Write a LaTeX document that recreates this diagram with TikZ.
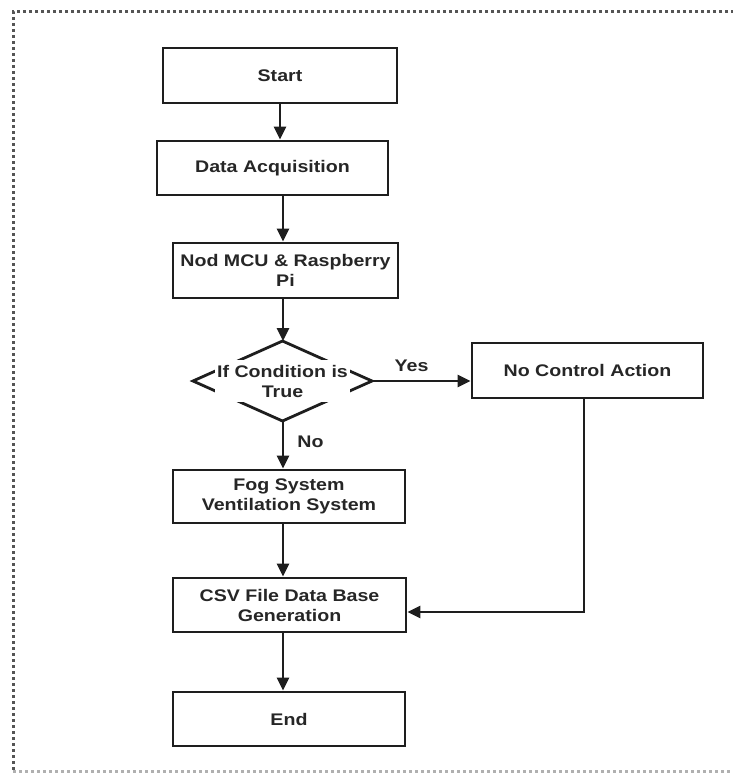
\documentclass[tikz,border=0pt]{standalone}
\usepackage{fontspec}
\setmainfont{Liberation Sans}[FakeStretch=1.167]
\usetikzlibrary{arrows.meta}
\definecolor{ink}{HTML}{1E1E1E}
\definecolor{txt}{HTML}{262626}
\definecolor{frame}{HTML}{555555}
\definecolor{framelight}{HTML}{B0B0B0}
\begin{document}
\begin{tikzpicture}[x=1pt,y=-1pt,
  every node/.style={font=\fontsize{16.8}{20}\selectfont\bfseries, text=txt},
  box/.style={draw=ink, line width=2.8pt, fill=white, inner sep=0pt, align=center},
  conn/.style={draw=ink, line width=2.8pt, -{Triangle[length=13pt,width=12pt]}},
  plain/.style={draw=ink, line width=2.8pt}]
\useasboundingbox (0,0) rectangle (732,776);
% dotted frame
\draw[frame, line width=3pt, dash pattern=on 3pt off 3pt] (740,12) -- (13,12) -- (13,771);
\draw[framelight, line width=3pt, dash pattern=on 3pt off 3pt] (13,771) -- (740,771);
% nodes
\node[box, minimum width=234pt, minimum height=55pt] (start) at (280,75.5) {Start};
\node[box, minimum width=231pt, minimum height=54pt] (data) at (272.5,168) {Data Acquisition};
\node[box, minimum width=225pt, minimum height=55pt] (nod) at (285.5,270.5) {Nod MCU \& Raspberry\\Pi};
\coordinate (dtop) at (282.5,341);
\coordinate (dbot) at (282.5,421);
\coordinate (dleft) at (193,381);
\coordinate (dright) at (372,381);
\draw[plain, line join=miter] (dtop) -- (dright) -- (dbot) -- (dleft) -- cycle;
\node[fill=white, inner sep=0pt, minimum width=135pt, minimum height=42pt, align=center] (dia) at (282.5,381) {If Condition is\\True};
\node[box, minimum width=231pt, minimum height=55pt] (noc) at (587.5,370.5) {No Control Action};
\node[box, minimum width=232pt, minimum height=53pt] (fog) at (289,496.5) {Fog System\\Ventilation System};
\node[box, minimum width=233pt, minimum height=54pt] (csv) at (289.5,605) {CSV File Data Base\\Generation};
\node[box, minimum width=232pt, minimum height=54pt] (end) at (289,719) {End};
% spine
\coordinate (sp) at (283,0);
\coordinate (fb) at (584,612);
% connectors
\draw[conn] (start.south -| 280,0) -- (data.north -| 280,0);
\draw[conn] (data.south -| sp) -- (nod.north -| sp);
\draw[conn] (nod.south -| sp) -- (dtop -| sp);
\draw[conn] (dbot -| sp) -- (fog.north -| sp);
\draw[conn] (fog.south -| sp) -- (csv.north -| sp);
\draw[conn] (csv.south -| sp) -- (end.north -| sp);
\draw[conn] (dright) -- (dright -| noc.west);
\draw[conn, line join=miter] (noc.south -| fb) -- (fb) -- (csv.east |- fb);
% labels
\node (yes) at (411.5,366) {Yes};
\node (no) at (310.5,442) {No};
\end{tikzpicture}
\end{document}
